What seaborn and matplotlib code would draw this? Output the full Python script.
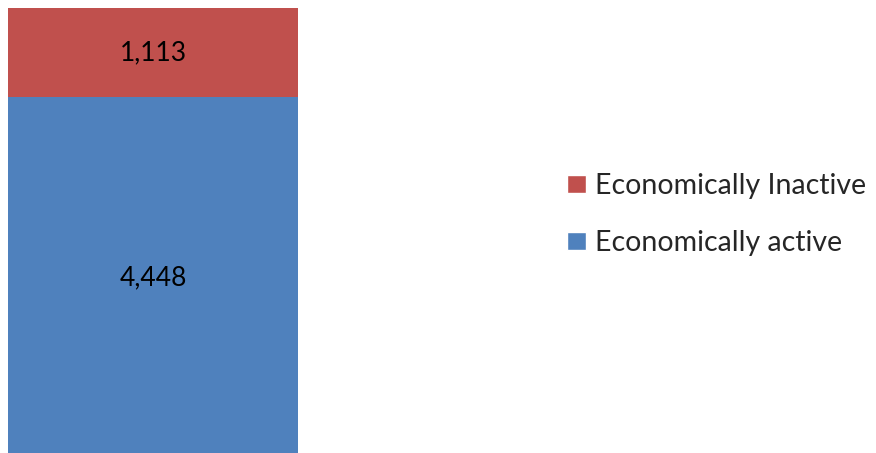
import numpy as np
import pandas as pd
import matplotlib
matplotlib.use("Agg")
import matplotlib.pyplot as plt
import seaborn as sns
from matplotlib.patches import Patch

# data
categories = ["Economically active", "Economically Inactive"]
values = [4448, 1113]
colors = ["#4F81BD", "#C0504D"]

sns.set_style("white")
plt.rcParams["font.family"] = ["Lato", "DejaVu Sans"]

fig = plt.figure(figsize=(8.76, 4.53), dpi=100)
ax = fig.add_axes([8 / 876, 0, 290 / 876, 445 / 453])

df = pd.DataFrame({"group": ["total"], "active": [values[0]], "inactive": [values[1]]})
df["total"] = df["active"] + df["inactive"]

# stacked: draw total in red, active on top of it in blue
sns.barplot(data=df, x="group", y="total", color=colors[1], width=1.0,
            saturation=1, ax=ax, edgecolor="none")
sns.barplot(data=df, x="group", y="active", color=colors[0], width=1.0,
            saturation=1, ax=ax, edgecolor="none")

ax.set_xlim(-0.5, 0.5)
ax.set_ylim(0, values[0] + values[1])
ax.axis("off")

ax.text(0, values[0] / 2 - 40, f"{values[0]:,}", ha="center", va="center",
        fontsize=19, color="black")
ax.text(0, values[0] + values[1] / 2, f"{values[1]:,}", ha="center", va="center",
        fontsize=19, color="black")

handles = [Patch(facecolor=colors[1], label=categories[1]),
           Patch(facecolor=colors[0], label=categories[0])]
fig.legend(handles=handles, loc="center left", bbox_to_anchor=(567 / 876, 0.527),
           frameon=False, fontsize=20.5, handlelength=0.68, handleheight=0.6,
           handletextpad=0.32, labelspacing=1.08, borderpad=0, borderaxespad=0)

fig.savefig("out.png", dpi=100)
